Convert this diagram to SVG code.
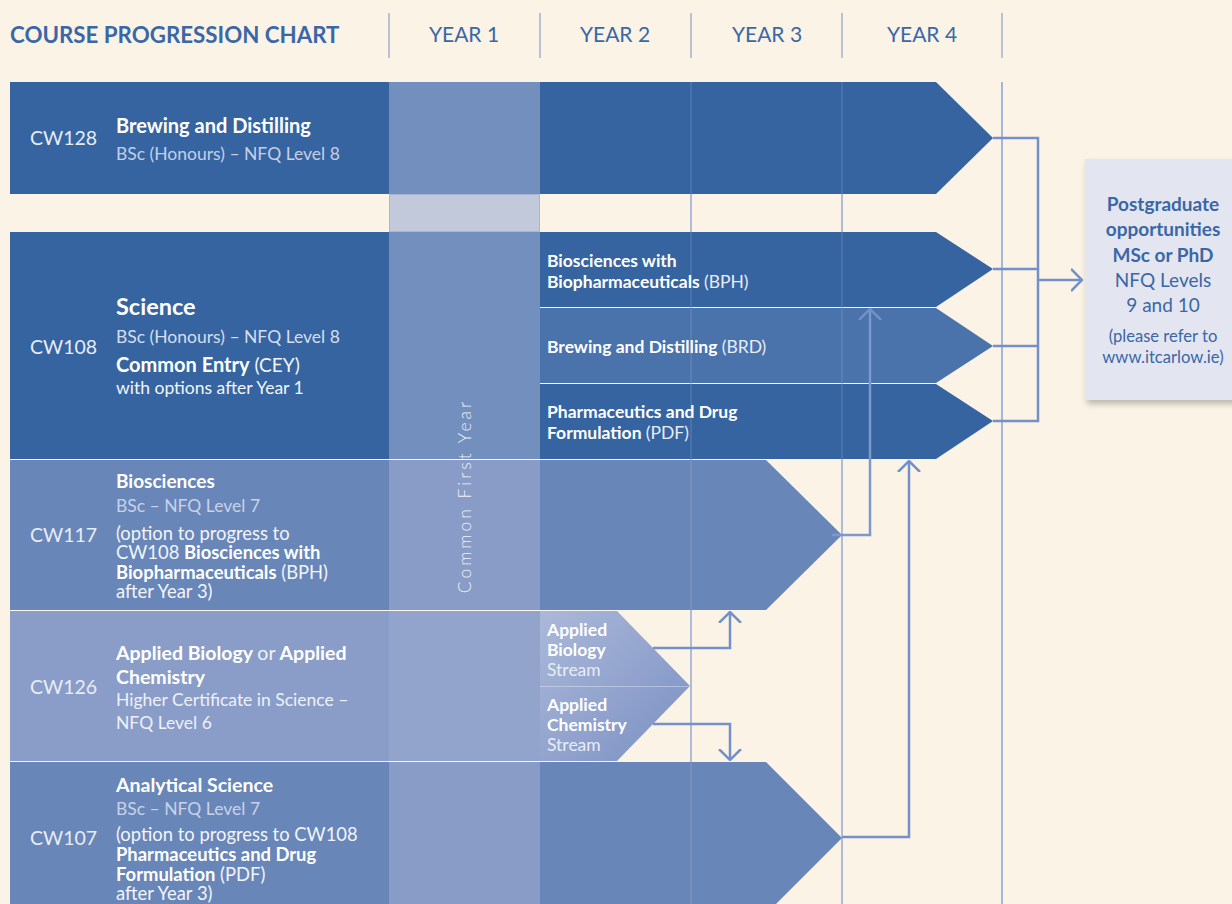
<svg xmlns="http://www.w3.org/2000/svg" width="1232" height="904" viewBox="0 0 1232 904">
<style>
text{font-family:Lato,"Open Sans","Liberation Sans",sans-serif}
.hd{fill:#3A67A6;font-size:21px}
.sep{stroke:#A3B1CC;stroke-width:1.5}
.grid{stroke:#8AA2D2;stroke-width:1.5}
.gridov{stroke:#FFFFFF;stroke-opacity:0.12;stroke-width:1.5}
.code{fill:#E8EDF6;font-size:19.5px}
.t{fill:#FFFFFF;font-size:20px;font-weight:700}
.s{font-size:17.5px}
.o{fill:#F2F5FA;font-size:18.4px}
.b{font-weight:700;fill:#FFFFFF}
.sb{fill:#FFFFFF;font-size:17.5px;font-weight:700}
.sr{fill:#E8EDF6;font-size:17.5px}
.pg{fill:#3A67A6;font-size:19px;text-anchor:middle}
.con{fill:none;stroke:#7391C8;stroke-width:2.5}
.div{stroke:#FFFFFF;stroke-opacity:0.18;stroke-width:1}
</style>
<defs>
<marker id="ah" viewBox="0 0 12 24" refX="11" refY="12" markerWidth="12" markerHeight="24" markerUnits="userSpaceOnUse" orient="auto">
<path d="M0,1 L11,12 L0,23" fill="none" stroke="#7391C8" stroke-width="2.5"/>
</marker>
<linearGradient id="sg" x1="0" y1="0" x2="1" y2="1">
<stop offset="0" stop-color="#ABB8D9"/>
<stop offset="1" stop-color="#7A90C3"/>
</linearGradient>
<filter id="sh" x="-10%" y="-10%" width="130%" height="130%">
<feGaussianBlur in="SourceAlpha" stdDeviation="3"/>
<feOffset dx="2" dy="4"/>
<feComponentTransfer><feFuncA type="linear" slope="0.25"/></feComponentTransfer>
<feMerge><feMergeNode/><feMergeNode in="SourceGraphic"/></feMerge>
</filter>
</defs>
<rect width="1232" height="904" fill="#FAF3E6"/>

<g id="header">
<text x="10" y="43" class="hd" font-weight="700" style="font-size:22.3px">COURSE PROGRESSION CHART</text>
<line x1="389" y1="13" x2="389" y2="58" class="sep"/>
<line x1="540" y1="13" x2="540" y2="58" class="sep"/>
<line x1="691" y1="13" x2="691" y2="58" class="sep"/>
<line x1="842" y1="13" x2="842" y2="58" class="sep"/>
<line x1="1002" y1="13" x2="1002" y2="58" class="sep"/>
<text x="464" y="42" class="hd" text-anchor="middle">YEAR 1</text>
<text x="615" y="42" class="hd" text-anchor="middle">YEAR 2</text>
<text x="767" y="42" class="hd" text-anchor="middle">YEAR 3</text>
<text x="922" y="42" class="hd" text-anchor="middle">YEAR 4</text>
</g>

<g id="grid">
<line x1="691" y1="82" x2="691" y2="904" class="grid"/>
<line x1="842" y1="82" x2="842" y2="904" class="grid"/>
<line x1="1002" y1="82" x2="1002" y2="904" class="grid"/>
</g>

<g id="cw128">
<rect x="10" y="82" width="379" height="112" fill="#3664A1"/>
<rect x="389" y="82" width="151" height="112" fill="#728FBD"/>
<polygon points="540,82 936,82 993,138 936,194 540,194" fill="#3664A1"/>
<text x="30" y="145" class="code">CW128</text>
<text x="116" y="133" class="t">Brewing and Distilling</text>
<text x="116" y="160" class="s" style="fill:#C5D0E6">BSc (Honours) – NFQ Level 8</text>
</g>

<g id="gap">
<rect x="389.5" y="194.5" width="150" height="37" fill="#C2C9DA" stroke="#A9B6D3" stroke-width="1"/>
</g>

<g id="cw108">
<rect x="10" y="232" width="379" height="227" fill="#3664A1"/>
<rect x="389" y="232" width="151" height="227" fill="#728FBD"/>
<text x="30" y="354" class="code">CW108</text>
<text x="116" y="315" class="t" style="font-size:23.5px">Science</text>
<text x="116" y="343" class="s" style="fill:#D6DEEE">BSc (Honours) – NFQ Level 8</text>
<text x="116" y="372" class="o" style="font-size:19px"><tspan class="b" style="font-size:20px">Common Entry</tspan> (CEY)</text>
<text x="116" y="394" class="o" style="font-size:17.5px">with options after Year 1</text>
</g>

<g id="bph">
<polygon points="540,232 936,232 993,269 936,307 540,307" fill="#3664A1"/>
<text x="547" y="267" class="sb">Biosciences with</text>
<text x="547" y="288" class="sb">Biopharmaceuticals <tspan class="sr" font-weight="400">(BPH)</tspan></text>
</g>
<g id="brd">
<polygon points="540,308 936,308 993,346 936,383 540,383" fill="#4A72AB"/>
<text x="547" y="353" class="sb">Brewing and Distilling <tspan class="sr" font-weight="400">(BRD)</tspan></text>
</g>
<g id="pdf">
<polygon points="540,384 936,384 993,421 936,459 540,459" fill="#3664A1"/>
<text x="547" y="418" class="sb">Pharmaceutics and Drug</text>
<text x="547" y="439" class="sb">Formulation <tspan class="sr" font-weight="400">(PDF)</tspan></text>
</g>

<g id="cw117">
<rect x="10" y="460" width="379" height="150" fill="#6886B8"/>
<rect x="389" y="460" width="151" height="150" fill="#889CC7"/>
<polygon points="540,460 766,460 842,535 766,610 540,610" fill="#6886B8"/>
<text x="30" y="542" class="code">CW117</text>
<text x="116" y="488" class="t" style="font-size:19px">Biosciences</text>
<text x="116" y="512" class="s" style="fill:#C8D2E8">BSc – NFQ Level 7</text>
<text x="116" y="540" class="o">(option to progress to</text>
<text x="116" y="559" class="o">CW108 <tspan class="b">Biosciences with</tspan></text>
<text x="116" y="579" class="o"><tspan class="b">Biopharmaceuticals</tspan> (BPH)</text>
<text x="116" y="598" class="o">after Year 3)</text>
</g>

<g id="cw126">
<rect x="10" y="611" width="379" height="150" fill="#8A9DC8"/>
<rect x="389" y="611" width="151" height="150" fill="#93A4CC"/>
<text x="30" y="694" class="code">CW126</text>
<text x="116" y="660" class="t" style="font-size:19.5px">Applied Biology <tspan style="font-weight:400;fill:#F0F3F9">or</tspan> Applied</text>
<text x="116" y="684" class="t" style="font-size:19.5px">Chemistry</text>
<text x="116" y="706" class="s" style="fill:#EEF1F8">Higher Certificate in Science –</text>
<text x="116" y="729" class="s" style="fill:#EEF1F8">NFQ Level 6</text>
</g>

<g id="streams">
<polygon points="540,611 617,611 690,686 617,761 540,761" fill="url(#sg)"/>
<line x1="540" y1="686.5" x2="689" y2="686.5" class="div" style="stroke-opacity:0.35"/>
<text x="547" y="636" class="sb">Applied</text>
<text x="547" y="656" class="sb">Biology</text>
<text x="547" y="676" class="sr">Stream</text>
<text x="547" y="711" class="sb">Applied</text>
<text x="547" y="731" class="sb">Chemistry</text>
<text x="547" y="751" class="sr">Stream</text>
</g>

<g id="cw107">
<rect x="10" y="762" width="379" height="142" fill="#6886B8"/>
<rect x="389" y="762" width="151" height="142" fill="#889CC7"/>
<polygon points="540,762 766,762 842,838 766,914 540,914" fill="#6886B8"/>
<text x="30" y="845" class="code">CW107</text>
<text x="116" y="792" class="t" style="font-size:19.5px">Analytical Science</text>
<text x="116" y="815" class="s" style="fill:#C8D2E8">BSc – NFQ Level 7</text>
<text x="116" y="841" class="o">(option to progress to CW108</text>
<text x="116" y="861" class="o"><tspan class="b">Pharmaceutics and Drug</tspan></text>
<text x="116" y="881" class="o"><tspan class="b">Formulation</tspan> (PDF)</text>
<text x="116" y="900" class="o">after Year 3)</text>
</g>

<g id="dividers">
<line x1="540" y1="307.5" x2="937" y2="307.5" class="div"/>
<line x1="540" y1="383.5" x2="937" y2="383.5" class="div"/>
<line x1="10" y1="459.5" x2="540" y2="459.5" class="div"/>
<line x1="10" y1="610.5" x2="540" y2="610.5" class="div"/>
<line x1="10" y1="761.5" x2="540" y2="761.5" class="div"/>
<line x1="691" y1="82" x2="691" y2="904" class="gridov"/>
<line x1="842" y1="82" x2="842" y2="904" class="gridov"/>
</g>

<g id="common-first-year">
<text x="0" y="0" transform="translate(471,496) rotate(-90)" text-anchor="middle" font-size="17.5" font-weight="300" letter-spacing="3" fill="#EEF1F8">Common First Year</text>
</g>

<g id="postgraduate">
<rect x="1085" y="159" width="160" height="241" fill="#E3E6F0" filter="url(#sh)"/>
<text x="1163" y="211" class="pg" font-weight="700">Postgraduate</text>
<text x="1163" y="236" class="pg" font-weight="700">opportunities</text>
<text x="1163" y="262" class="pg" font-weight="700">MSc or PhD</text>
<text x="1163" y="287" class="pg">NFQ Levels</text>
<text x="1163" y="312" class="pg">9 and 10</text>
<text x="1163" y="342" class="pg" style="font-size:16.6px">(please refer to</text>
<text x="1163" y="363" class="pg" style="font-size:16.6px">www.itcarlow.ie)</text>
</g>

<g id="connectors">
<polyline points="993,138 1038,138 1038,421 993,421" class="con"/>
<line x1="993" y1="269" x2="1038" y2="269" class="con"/>
<line x1="993" y1="346" x2="1038" y2="346" class="con"/>
<line x1="1038" y1="280" x2="1082" y2="280" class="con" marker-end="url(#ah)"/>
<polyline points="832,535 870,535 870,309" class="con" style="stroke:#7C98CC" marker-end="url(#ah)"/>
<polyline points="842,837 909,837 909,461" class="con" marker-end="url(#ah)"/>
<polyline points="653,648 730,648 730,612" class="con" marker-end="url(#ah)"/>
<polyline points="653,724 730,724 730,760" class="con" marker-end="url(#ah)"/>
</g>
</svg>
